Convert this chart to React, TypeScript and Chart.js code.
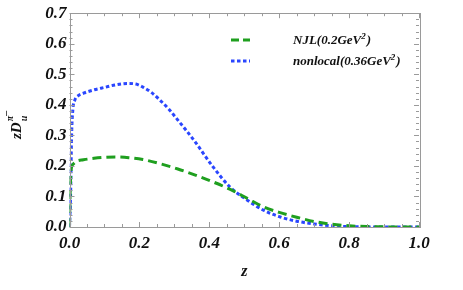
import React, { useEffect, useRef } from "react";
import { Chart, registerables } from "chart.js";

Chart.register(...registerables);

const zNJL = [0, 0.002, 0.005, 0.01, 0.02, 0.04, 0.07, 0.1, 0.135, 0.17, 0.21, 0.26, 0.31, 0.36, 0.41, 0.46, 0.51, 0.555, 0.6, 0.65, 0.7, 0.75, 0.8, 0.85, 0.9, 0.95, 1.0];
const vNJL = [0, 0.12, 0.19, 0.205, 0.215, 0.22, 0.225, 0.228, 0.229, 0.227, 0.221, 0.207, 0.19, 0.17, 0.148, 0.123, 0.093, 0.066, 0.048, 0.032, 0.018, 0.009, 0.004, 0.0015, 0.0005, 0.0001, 0];

const zNL = [0, 0.003, 0.006, 0.01, 0.015, 0.025, 0.04, 0.07, 0.1, 0.13, 0.165, 0.19, 0.21, 0.235, 0.26, 0.285, 0.31, 0.335, 0.36, 0.41, 0.46, 0.51, 0.555, 0.6, 0.65, 0.7, 0.75, 0.8, 0.85, 0.9, 1.0];
const vNL = [0, 0.1, 0.3, 0.39, 0.415, 0.43, 0.438, 0.449, 0.457, 0.465, 0.47, 0.468, 0.458, 0.44, 0.414, 0.385, 0.35, 0.315, 0.278, 0.198, 0.13, 0.087, 0.055, 0.034, 0.019, 0.01, 0.004, 0.001, 0.0003, 0, 0];

const seriesLabels = ["NJL(0.2GeV", "nonlocal(0.36GeV"];
const xTitle = "z";

const GREEN = "#1f9f1f";
const BLUE = "#2a46ff";
const FRAME = "#9a9a9a";
const FONT = "'Liberation Serif', 'Times New Roman', serif";

const framePlugin = {
  id: "frame",
  afterDraw(chart: any) {
    const { ctx, chartArea: a, scales } = chart;
    const xs = scales.x;
    const ys = scales.y;
    ctx.save();
    ctx.strokeStyle = FRAME;
    ctx.lineWidth = 1;
    ctx.strokeRect(Math.round(a.left) + 0.5, Math.round(a.top) + 0.5, Math.round(a.right - a.left), Math.round(a.bottom - a.top));
    ctx.beginPath();
    for (let i = 0; i <= 20; i++) {
      const v = i * 0.05;
      const px = Math.round(xs.getPixelForValue(v)) + 0.5;
      const len = i % 4 === 0 ? 5 : 3;
      ctx.moveTo(px, a.bottom); ctx.lineTo(px, a.bottom - len);
      ctx.moveTo(px, a.top); ctx.lineTo(px, a.top + len);
    }
    for (let i = 0; i <= 35; i++) {
      const v = i * 0.02;
      const py = Math.round(ys.getPixelForValue(v)) + 0.5;
      const len = i % 5 === 0 ? 5 : 3;
      ctx.moveTo(a.left, py); ctx.lineTo(a.left + len, py);
      ctx.moveTo(a.right, py); ctx.lineTo(a.right - len, py);
    }
    ctx.stroke();

    // axis titles
    ctx.fillStyle = "#111";
    ctx.font = `italic bold 16px ${FONT}`;
    ctx.textAlign = "center";
    ctx.textBaseline = "alphabetic";
    ctx.fillText(xTitle, (a.left + a.right) / 2, 276);

    ctx.save();
    ctx.translate(21, 139);
    ctx.rotate(-Math.PI / 2);
    ctx.textAlign = "left";
    ctx.font = `italic bold 15px ${FONT}`;
    ctx.fillText("zD", 0, 0);
    const w = ctx.measureText("zD").width;
    ctx.font = `italic bold 10px ${FONT}`;
    ctx.fillText("u", w + 1, 6);
    ctx.fillText("\u03c0", w + 1, -8);
    const wp = ctx.measureText("\u03c0").width;
    ctx.fillText("\u2013", w + 1 + wp, -12);
    ctx.restore();

    // legend
    const items = [
      { color: GREEN, dash: [8, 4], y: 40, label: seriesLabels[0] },
      { color: BLUE, dash: [3.5, 2.5], y: 61, label: seriesLabels[1] },
    ];
    for (const it of items) {
      ctx.strokeStyle = it.color;
      ctx.lineWidth = 3;
      ctx.setLineDash(it.dash);
      ctx.beginPath();
      ctx.moveTo(231, it.y);
      ctx.lineTo(250, it.y);
      ctx.stroke();
      ctx.setLineDash([]);
      ctx.fillStyle = "#111";
      ctx.textAlign = "left";
      ctx.textBaseline = "middle";
      ctx.font = `italic bold 13px ${FONT}`;
      let x = 293;
      ctx.fillText(it.label, x, it.y + 1);
      x += ctx.measureText(it.label).width;
      ctx.font = `italic bold 9px ${FONT}`;
      ctx.fillText("2", x, it.y - 3);
      x += ctx.measureText("2").width + 1;
      ctx.font = `italic bold 13px ${FONT}`;
      ctx.fillText(")", x, it.y + 1);
    }
    ctx.restore();
  },
};

export default function App() {
  const ref = useRef<HTMLCanvasElement | null>(null);
  useEffect(() => {
    const canvas = ref.current;
    if (!canvas) return;
    const tickFont = { family: FONT, size: 17, style: "italic" as const, weight: "bold" as const };
    const chart = new Chart(canvas, {
      type: "line",
      data: {
        datasets: [
          {
            label: seriesLabels[0],
            data: zNJL.map((z, i) => ({ x: z, y: vNJL[i] })),
            borderColor: GREEN,
            borderWidth: 3,
            borderDash: [9, 5],
            pointRadius: 0,
            cubicInterpolationMode: "monotone",
            fill: false,
          },
          {
            label: seriesLabels[1],
            data: zNL.map((z, i) => ({ x: z, y: vNL[i] })),
            borderColor: BLUE,
            borderWidth: 3,
            borderDash: [3.5, 2.5],
            pointRadius: 0,
            cubicInterpolationMode: "monotone",
            fill: false,
          },
        ],
      },
      options: {
        animation: false,
        responsive: false,
        maintainAspectRatio: false,
        layout: { padding: { top: 12, right: 44, left: 0, bottom: 0 } },
        plugins: { legend: { display: false }, tooltip: { enabled: false } },
        scales: {
          x: {
            type: "linear",
            min: 0,
            max: 1,
            grid: { display: false, drawTicks: false },
            border: { display: false },
            ticks: {
              stepSize: 0.2,
              padding: 6,
              color: "#111",
              font: tickFont,
              maxRotation: 0,
              callback: (v: any) => Number(v).toFixed(1),
            },
            afterFit: (s: any) => { s.height = 63; },
          },
          y: {
            type: "linear",
            min: 0,
            max: 0.7,
            grid: { display: false, drawTicks: false },
            border: { display: false },
            ticks: {
              stepSize: 0.1,
              padding: 3,
              color: "#111",
              font: tickFont,
              callback: (v: any) => Number(v).toFixed(1),
            },
            afterFit: (s: any) => { s.width = 69.5; },
          },
        },
      },
      plugins: [framePlugin],
    });
    return () => chart.destroy();
  }, []);
  return (
    <div style={{ position: "fixed", left: 0, top: 0, width: 463, height: 290, background: "#fff" }}>
      <canvas ref={ref} width={463} height={290} style={{ width: 463, height: 290 }} />
    </div>
  );
}
